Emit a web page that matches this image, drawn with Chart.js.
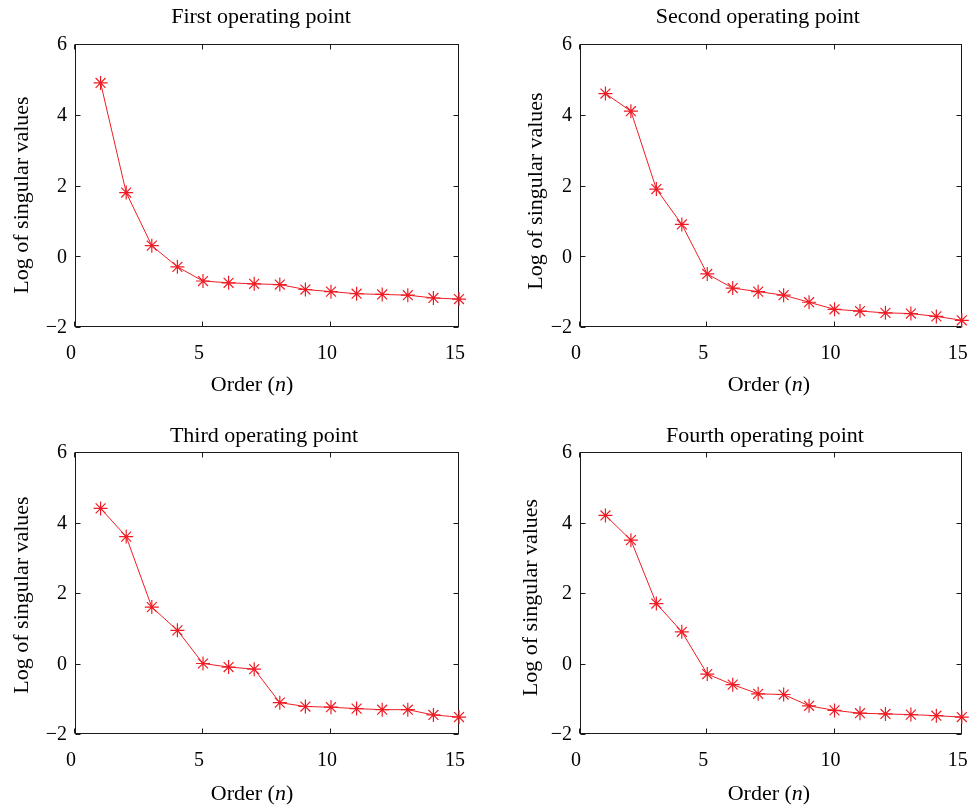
<!DOCTYPE html>
<html>
<head>
<meta charset="utf-8">
<title>Log of singular values</title>
<script src="https://cdn.jsdelivr.net/npm/chart.js@4.4.1/dist/chart.umd.min.js"></script>
<style>
  html, body { margin: 0; padding: 0; background: #fff; }
  #wrap { position: relative; width: 970px; height: 808px; overflow: hidden; }
  .panel { position: absolute; }
</style>
</head>
<body>
<div id="wrap">
  <canvas id="c1" class="panel" width="485" height="400" style="left:0;top:0"></canvas>
  <canvas id="c2" class="panel" width="485" height="400" style="left:485px;top:0"></canvas>
  <canvas id="c3" class="panel" width="485" height="408" style="left:0;top:400px"></canvas>
  <canvas id="c4" class="panel" width="485" height="408" style="left:485px;top:400px"></canvas>
</div>
<script>
// data
const orders = [1, 2, 3, 4, 5, 6, 7, 8, 9, 10, 11, 12, 13, 14, 15];
const firstPoint  = [4.9, 1.8, 0.3, -0.3, -0.7, -0.75, -0.78, -0.8, -0.94, -1.0, -1.06, -1.08, -1.1, -1.18, -1.21];
const secondPoint = [4.6, 4.1, 1.9, 0.9, -0.5, -0.9, -1.0, -1.1, -1.3, -1.5, -1.55, -1.6, -1.62, -1.7, -1.81];
const thirdPoint  = [4.4, 3.6, 1.6, 0.94, 0.0, -0.1, -0.16, -1.11, -1.22, -1.24, -1.28, -1.31, -1.31, -1.46, -1.52];
const fourthPoint = [4.2, 3.5, 1.7, 0.9, -0.3, -0.6, -0.86, -0.88, -1.2, -1.33, -1.41, -1.43, -1.45, -1.48, -1.52];
const titles = ['First operating point', 'Second operating point', 'Third operating point', 'Fourth operating point'];
const yLabel = 'Log of singular values';
const xTicks = [0, 5, 10, 15];
const yTicks = [-2, 0, 2, 4, 6];

const FONT = '"Liberation Serif", "Times New Roman", serif';
const LABEL_SIZE = 22;
const TICK_SIZE = 20;
const RED = '#ee1d25';

// MATLAB-style box with inward ticks, and the panel texts (title, axis labels)
const boxTicks = {
  id: 'boxTicks',
  beforeDatasetsDraw(chart) {
    const { ctx, chartArea: a, scales: { x, y } } = chart;
    const len = 5;
    ctx.save();
    ctx.strokeStyle = '#1a1a1a';
    ctx.lineWidth = 1;
    const l = Math.round(a.left) + 0.5, r = Math.round(a.right) - 0.5;
    const t = Math.round(a.top) + 0.5, b = Math.round(a.bottom) - 0.5;
    ctx.strokeRect(l, t, r - l, b - t);
    ctx.beginPath();
    x.ticks.forEach(tk => {
      const px = Math.round(x.getPixelForValue(tk.value)) - 0.5;
      ctx.moveTo(px, b); ctx.lineTo(px, b - len);
      ctx.moveTo(px, t); ctx.lineTo(px, t + len);
    });
    y.ticks.forEach(tk => {
      const py = Math.round(y.getPixelForValue(tk.value)) + 0.5;
      ctx.moveTo(l, py); ctx.lineTo(l + len, py);
      ctx.moveTo(r, py); ctx.lineTo(r - len, py);
    });
    ctx.stroke();
    ctx.restore();
  },
  afterDraw(chart, args, opts) {
    const { ctx, chartArea: a } = chart;
    const cx = (a.left + a.right) / 2;
    const cy = (a.top + a.bottom) / 2;
    ctx.save();
    ctx.fillStyle = '#000';
    ctx.textBaseline = 'alphabetic';

    // title
    ctx.font = LABEL_SIZE + 'px ' + FONT;
    ctx.textAlign = 'center';
    ctx.fillText(opts.title, cx + opts.titleShift, opts.titleBase);

    // y label, rotated
    ctx.save();
    ctx.translate(opts.yBase, cy + opts.yShift);
    ctx.rotate(-Math.PI / 2);
    ctx.fillText(yLabel, 0, 0);
    ctx.restore();

    // x label with italic n
    const parts = [['Order (', ''], ['n', 'italic '], [')', '']];
    ctx.textAlign = 'left';
    let total = 0;
    parts.forEach(p => { ctx.font = p[1] + LABEL_SIZE + 'px ' + FONT; total += ctx.measureText(p[0]).width; });
    let px = cx - total / 2 + opts.xShift;
    parts.forEach(p => {
      ctx.font = p[1] + LABEL_SIZE + 'px ' + FONT;
      ctx.fillText(p[0], px, a.bottom + opts.xBase);
      px += ctx.measureText(p[0]).width;
    });
    ctx.restore();
  }
};

const panels = [
  { id: 'c1', values: firstPoint,  top: 44, yWidth: 75, rightPad: 26, xHeight: 73,
    titleBase: 23,   titleShift: -6,  yBase: 27.5, yShift: 9.5, xShift: -15, xBase: 63.5 },
  { id: 'c2', values: secondPoint, top: 44, yWidth: 95, rightPad: 6,  xHeight: 73,
    titleBase: 23,   titleShift: -13, yBase: 57,   yShift: 5.5, xShift: -2,  xBase: 63.5 },
  { id: 'c3', values: thirdPoint,  top: 52, yWidth: 75, rightPad: 26, xHeight: 74,
    titleBase: 41.5, titleShift: -3,  yBase: 28,   yShift: 2,   xShift: -15, xBase: 65.5 },
  { id: 'c4', values: fourthPoint, top: 52, yWidth: 95, rightPad: 6,  xHeight: 74,
    titleBase: 41.5, titleShift: -6,  yBase: 52,   yShift: 4.5, xShift: -2,  xBase: 65.5 }
];

panels.forEach((p, i) => {
  const ctx = document.getElementById(p.id).getContext('2d');
  new Chart(ctx, {
    type: 'line',
    data: {
      labels: orders,
      datasets: [{
        data: orders.map((n, k) => ({ x: n, y: p.values[k] })),
        borderColor: RED,
        backgroundColor: RED,
        borderWidth: 1,
        pointStyle: 'star',
        pointRadius: 7,
        pointBorderColor: RED,
        pointBorderWidth: 1.2,
        tension: 0,
        fill: false,
        clip: false
      }]
    },
    options: {
      responsive: false,
      devicePixelRatio: 1,
      animation: false,
      events: [],
      layout: { padding: { left: 0, right: p.rightPad, top: p.top, bottom: 0 } },
      scales: {
        x: {
          type: 'linear',
          min: 0,
          max: 15,
          afterBuildTicks: s => { s.ticks = xTicks.map(v => ({ value: v })); },
          afterFit: s => { s.height = p.xHeight; s.paddingLeft = 0; s.paddingRight = 0; },
          grid: { display: false, drawTicks: false },
          border: { display: false },
          ticks: {
            color: '#000',
            font: { family: FONT, size: TICK_SIZE },
            padding: 14.5,
            labelOffset: -4,
            maxRotation: 0
          }
        },
        y: {
          type: 'linear',
          min: -2,
          max: 6,
          afterBuildTicks: s => { s.ticks = yTicks.map(v => ({ value: v })); },
          afterFit: s => { s.width = p.yWidth; s.paddingTop = 0; s.paddingBottom = 0; },
          grid: { display: false, drawTicks: false },
          border: { display: false },
          ticks: {
            color: '#000',
            font: { family: FONT, size: TICK_SIZE },
            padding: 8,
            labelOffset: 1,
            callback: v => String(v).replace('-', '\u2212')
          }
        }
      },
      plugins: {
        legend: { display: false },
        tooltip: { enabled: false },
        boxTicks: {
          title: titles[i],
          titleBase: p.titleBase, titleShift: p.titleShift,
          yBase: p.yBase, yShift: p.yShift,
          xShift: p.xShift, xBase: p.xBase
        }
      }
    },
    plugins: [boxTicks]
  });
});
</script>
</body>
</html>
